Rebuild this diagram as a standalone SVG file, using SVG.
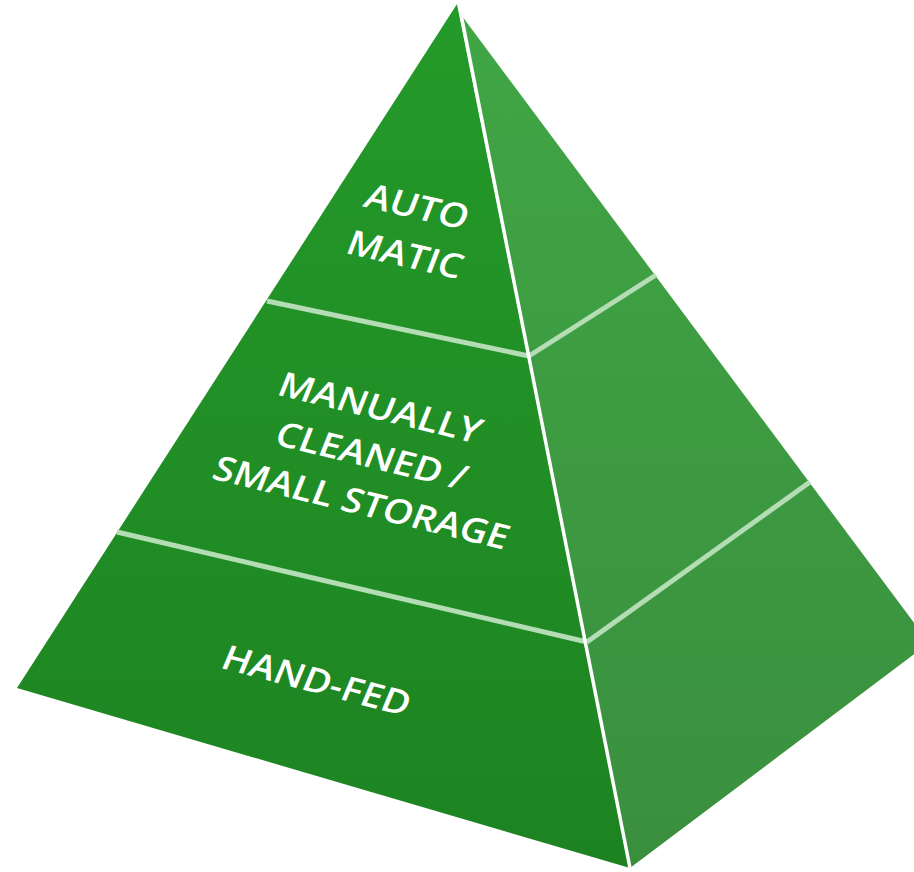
<svg xmlns="http://www.w3.org/2000/svg" width="914" height="872" viewBox="0 0 914 872">
<defs>
<linearGradient id="gl" x1="0" y1="0" x2="0" y2="1">
<stop offset="0" stop-color="#249a2a"/>
<stop offset="1" stop-color="#1d8321"/>
</linearGradient>
<linearGradient id="gr" x1="0" y1="0" x2="0" y2="1">
<stop offset="0" stop-color="#40a645"/>
<stop offset="1" stop-color="#3a8f3e"/>
</linearGradient>
<style>
.band{stroke:#b4dcb5;stroke-width:5;fill:none;stroke-linecap:butt}
.ridge{stroke:#ffffff;stroke-width:3.5;fill:none}
.lbl{font-family:"Open Sans","Liberation Sans",sans-serif;font-size:34.5px;font-weight:600;fill:#ffffff;text-anchor:middle}
</style>
</defs>
<rect width="914" height="872" fill="#ffffff"/>
<g id="face-left">
<polygon points="457,4 630,868 17,688" fill="url(#gl)"/>
</g>
<g id="face-right">
<polygon points="462,16 929,643 630,868" fill="url(#gr)"/>
</g>
<g id="bands">
<line class="band" x1="267" y1="301" x2="529" y2="356"/>
<line class="band" x1="529" y1="356" x2="656" y2="275"/>
<line class="band" x1="117" y1="532" x2="587" y2="642"/>
<line class="band" x1="587" y1="642" x2="810" y2="482"/>
<line class="ridge" x1="459" y1="4" x2="630" y2="868"/>
</g>
<g id="tier-automatic">
<text class="lbl" transform="translate(413,218) rotate(13) skewX(-8) scale(1.1,1)">AUTO</text>
<text class="lbl" transform="translate(401,266) rotate(13) skewX(-8) scale(1.1,1)">MATIC</text>
</g>
<g id="tier-manual">
<text class="lbl" transform="translate(376,419) rotate(13.7) skewX(-8) scale(1.1,1)">MANUALLY</text>
<text class="lbl" transform="translate(367,467) rotate(13.7) skewX(-8) scale(1.1,1)">CLEANED /</text>
<text class="lbl" transform="translate(357,514) rotate(13.7) skewX(-8) scale(1.1,1)">SMALL STORAGE</text>
</g>
<g id="tier-handfed">
<text class="lbl" transform="translate(312,692) rotate(14.7) skewX(-8) scale(1.1,1)">HAND-FED</text>
</g>
</svg>
